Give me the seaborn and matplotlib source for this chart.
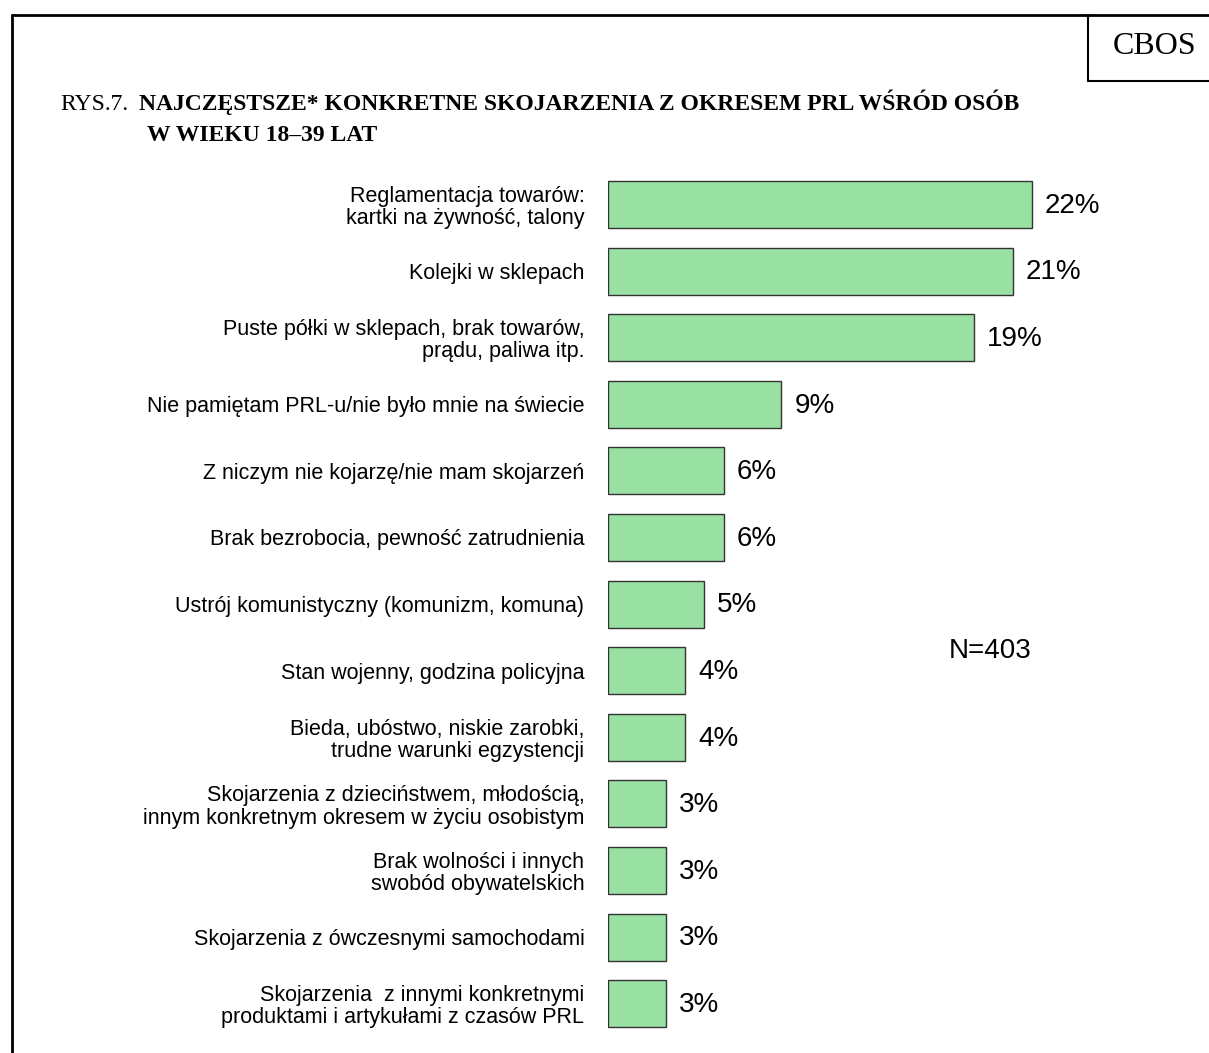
import matplotlib
matplotlib.use("Agg")
import matplotlib.pyplot as plt
import seaborn as sns
import pandas as pd
from matplotlib.lines import Line2D

categories = [
    "Reglamentacja towarów:\nkartki na żywność, talony",
    "Kolejki w sklepach",
    "Puste półki w sklepach, brak towarów,\nprądu, paliwa itp.",
    "Nie pamiętam PRL-u/nie było mnie na świecie",
    "Z niczym nie kojarzę/nie mam skojarzeń",
    "Brak bezrobocia, pewność zatrudnienia",
    "Ustrój komunistyczny (komunizm, komuna)",
    "Stan wojenny, godzina policyjna",
    "Bieda, ubóstwo, niskie zarobki,\ntrudne warunki egzystencji",
    "Skojarzenia z dzieciństwem, młodością,\ninnym konkretnym okresem w życiu osobistym",
    "Brak wolności i innych\nswobód obywatelskich",
    "Skojarzenia z ówczesnymi samochodami",
    "Skojarzenia  z innymi konkretnymi\nproduktami i artykułami z czasów PRL",
]
values = [22, 21, 19, 9, 6, 6, 5, 4, 4, 3, 3, 3, 3]
value_labels = [f"{v}%" for v in values]
title_prefix = "RYS.7."
title_line1 = "NAJCZĘSTSZE* KONKRETNE SKOJARZENIA Z OKRESEM PRL WŚRÓD OSÓB"
title_line2 = "W WIEKU 18–39 LAT"
note = "N=403"
brand = "CBOS"

df = pd.DataFrame({"cat": categories, "val": values})

sns.set_theme(style="white")
plt.rcParams['font.family'] = ['Liberation Sans', 'DejaVu Sans']
serif = ["Liberation Serif", "DejaVu Serif"]

W, H = 1209, 1053
fig = plt.figure(figsize=(W / 100, H / 100), dpi=100)

px_per_unit = 19.27
ax_left = 608
ax_right = 1150
row = 66.6
y_top = 204.5 - row / 2
y_bot = y_top + row * len(categories)
ax = fig.add_axes([ax_left / W, 1 - y_bot / H, (ax_right - ax_left) / W, (y_bot - y_top) / H])

sns.barplot(data=df, x="val", y="cat", orient="h", color="#98E1A2",
            saturation=1, width=0.706, edgecolor="#333333", linewidth=1.0, ax=ax)
ax.set_xlim(0, (ax_right - ax_left) / px_per_unit)
ax.set_ylim(len(categories) - 0.5, -0.5)
for s in ax.spines.values():
    s.set_visible(False)
ax.set_xticks([])
ax.set_xlabel("")
ax.set_ylabel("")
ax.tick_params(axis="y", length=0, pad=17)
for lab in ax.get_yticklabels():
    lab.set_fontsize(15.5)
    lab.set_color("black")
    lab.set_ha("right")
    lab.set_multialignment("right")
    lab.set_linespacing(1.08)
ax.patch.set_alpha(0)

for i, (v, t) in enumerate(zip(values, value_labels)):
    ax.text(v + 13 / px_per_unit, i + 0.02, t, va="center", ha="left", fontsize=20, color="black")

ax.text((949 - ax_left) / px_per_unit, 6.71, note, fontsize=20, va="center", ha="left", color="black")

# frame
fig.add_artist(Line2D([12 / W, 12 / W], [1 - 15 / H, 0], transform=fig.transFigure, color="black", lw=2))
fig.add_artist(Line2D([12 / W, 1], [1 - 15 / H, 1 - 15 / H], transform=fig.transFigure, color="black", lw=2))
fig.add_artist(Line2D([1088 / W, 1088 / W], [1 - 15 / H, 1 - 81 / H], transform=fig.transFigure, color="black", lw=1.5))
fig.add_artist(Line2D([1088 / W, 1], [1 - 81 / H, 1 - 81 / H], transform=fig.transFigure, color="black", lw=1.5))
fig.text(1155 / W, 1 - 47 / H, brand, fontsize=23, ha="center", va="center", color="black", family=serif)

# title
fig.text(60 / W, 1 - 110 / H, title_prefix, fontsize=17, ha="left", va="baseline", color="black", family=serif)
fig.text(139 / W, 1 - 110 / H, title_line1, fontsize=17, ha="left", va="baseline", weight="bold",
         color="black", family=serif)
fig.text(147 / W, 1 - 141 / H, title_line2, fontsize=17, ha="left", va="baseline", weight="bold",
         color="black", family=serif)

fig.savefig("out.png", dpi=100)
